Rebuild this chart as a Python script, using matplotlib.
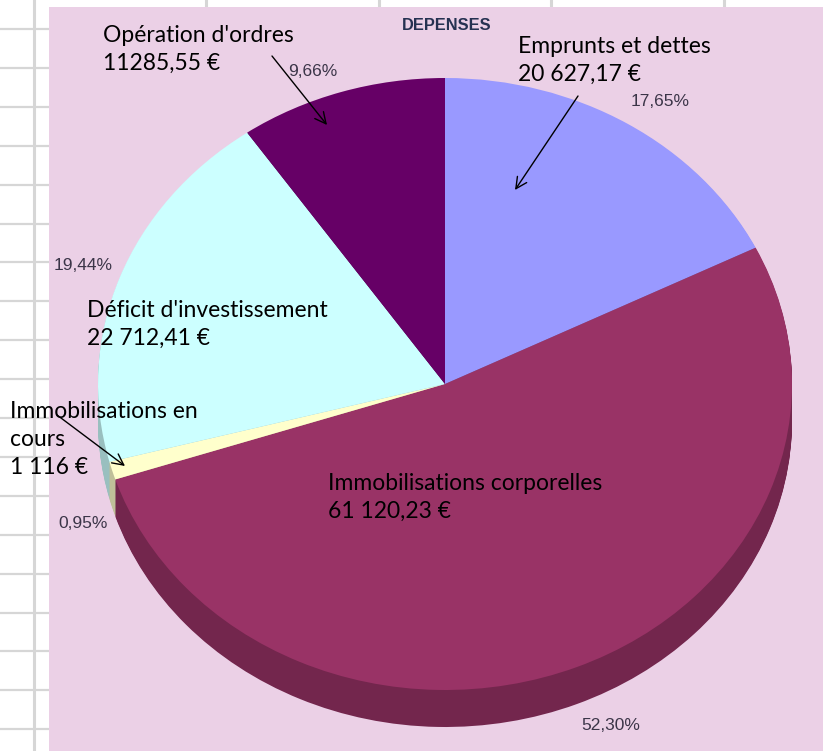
import matplotlib.pyplot as plt
import matplotlib.transforms as mtransforms
import matplotlib.patches as mpatches
import numpy as np

# data, clockwise from 12 o'clock
categories = ["Emprunts et dettes", "Immobilisations corporelles",
              "Immobilisations en\ncours", "Déficit d'investissement",
              "Opération d'ordres"]
amounts = [20627.17, 61120.23, 1116.0, 22712.41, 11285.55]
amount_labels = ["20 627,17 €", "61 120,23 €", "1 116 €", "22 712,41 €", "11285,55 €"]
colors = ["#9999FF", "#993366", "#FFFFCC", "#CCFFFF", "#660066"]

# layout in pixels (figure is 823 x 751)
W, H = 823, 751
cx, cy = 445, 384      # centre of the top face
rx, ry = 347, 306      # radii of the top face
depth = 37

# category label positions (left, top) and percent label centres
cat_pos = [(518, 36), (328, 473), (10, 401), (87, 300), (103, 25)]
pct_pos = [(660, 102), (611, 725), (83, 523), (83, 265), (313, 72)]
# arrows (tail -> head)
arrows = [((578, 96), (515, 190)), ((272, 56), (327, 125)), ((57, 415), (125, 466))]


def darker(c, f=0.75):
    r, g, b = plt.matplotlib.colors.to_rgb(c)
    return (r * f, g * f, b * f)


fig = plt.figure(figsize=(W / 100, H / 100), dpi=100)
ax = fig.add_axes([0, 0, 1, 1])

# spreadsheet grid behind the chart
for y in np.arange(29, H, 38.9):
    ax.plot([0, 49], [y, y], color="#d6d6d6", lw=1.6, zorder=0)
ax.plot([34, 34], [0, H], color="#d6d6d6", lw=2.2, zorder=0)
for x in [206, 379, 551, 724]:
    ax.plot([x, x], [0, 7], color="#d6d6d6", lw=2.2, zorder=0)

ax.add_patch(mpatches.Rectangle((49, 7), W - 49, H - 7, facecolor="#EBD0E6",
                                edgecolor="none", zorder=0.5))

k = ry / rx
side_colors = [darker(c) for c in colors]
for d in range(depth, 0, -1):
    wedges, _ = ax.pie(amounts, radius=rx, center=(0, 0), startangle=90,
                       counterclock=False, colors=side_colors,
                       wedgeprops=dict(linewidth=0, antialiased=True))
    tr = mtransforms.Affine2D().scale(1, -k).translate(cx, cy + d) + ax.transData
    for w in wedges:
        w.set_transform(tr)
        w.set_zorder(1)

wedges, _ = ax.pie(amounts, radius=rx, center=(0, 0), startangle=90,
                   counterclock=False, colors=colors,
                   wedgeprops=dict(linewidth=0, antialiased=True))
tr = mtransforms.Affine2D().scale(1, -k).translate(cx, cy) + ax.transData
for w in wedges:
    w.set_transform(tr)
    w.set_zorder(2)

ax.set_xlim(0, W)
ax.set_ylim(H, 0)
ax.set_aspect('auto')
ax.axis('off')

total = sum(amounts)
for i, name in enumerate(categories):
    x, y = cat_pos[i]
    ax.text(x, y, name + "\n" + amount_labels[i], ha='left', va='top',
            fontsize=16.5, family='Lato', color='black', linespacing=1.42, zorder=5)
    pct = f"{amounts[i] / total * 100:.2f}%".replace(".", ",")
    px, py = pct_pos[i]
    ax.text(px, py, pct, ha='center', va='center', fontsize=12.5,
            family='Liberation Sans', color='#3b3548', zorder=5)

for (x0, y0), (x1, y1) in arrows:
    ax.annotate("", xy=(x1, y1), xytext=(x0, y0),
                arrowprops=dict(arrowstyle='->', color='black', lw=1,
                                mutation_scale=20, shrinkA=0, shrinkB=0),
                zorder=6)

ax.text(447, 25, "DEPENSES", ha='center', va='center', fontsize=11.8,
        family='Liberation Sans', fontweight='bold', color='#263252', zorder=5)

fig.savefig("out.png", dpi=100)
